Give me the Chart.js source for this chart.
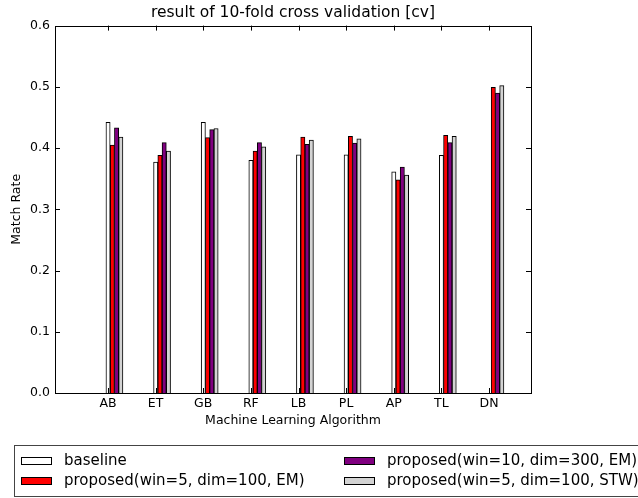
<!DOCTYPE html>
<html>
<head>
<meta charset="utf-8">
<script src="https://cdn.jsdelivr.net/npm/chart.js@4/dist/chart.umd.min.js"></script>
<style>
  html, body { margin: 0; padding: 0; background: #fff; }
  #chart { display: block; }
</style>
</head>
<body>
<canvas id="chart" width="638" height="498"></canvas>
<script>
// values
const categories = ["AB", "ET", "GB", "RF", "LB", "PL", "AP", "TL", "DN"];
const baseline = [0.442, 0.377, 0.442, 0.380, 0.389, 0.389, 0.361, 0.388, null];
const emWin5 = [0.405, 0.388, 0.417, 0.395, 0.418, 0.419, 0.348, 0.421, 0.499];
const emWin10 = [0.433, 0.409, 0.430, 0.409, 0.406, 0.408, 0.369, 0.409, 0.490];
const stwWin5 = [0.418, 0.395, 0.432, 0.402, 0.413, 0.415, 0.356, 0.419, 0.502];
const yTicks = [0.0, 0.1, 0.2, 0.3, 0.4, 0.5, 0.6];

const seriesLabels = [
  "baseline",
  "proposed(win=5, dim=100, EM)",
  "proposed(win=10, dim=300, EM)",
  "proposed(win=5, dim=100, STW)",
];
const seriesColors = ["#ffffff", "#ff0000", "#800080", "#d3d3d3"];

// group of bars starts at the tick (matplotlib style), so shift group centre right
const GROUP_SHIFT = 0.135;
const FONT = "DejaVu Sans";

Chart.defaults.font.family = FONT;
Chart.defaults.color = "#000";

function toPoints(values) {
  return values.map((v, i) => ({ x: i + GROUP_SHIFT, y: v }));
}

// frame + inward tick marks on all four sides
const framePlugin = {
  id: "frame",
  afterDatasetsDraw(chart) {
    const { ctx, chartArea: a, scales } = chart;
    const len = 5;
    ctx.save();
    ctx.strokeStyle = "#000";
    ctx.lineWidth = 1;
    ctx.beginPath();
    scales.y.ticks.forEach((t) => {
      const y = Math.round(scales.y.getPixelForValue(t.value)) + 0.5;
      ctx.moveTo(a.left, y); ctx.lineTo(a.left + len, y);
      ctx.moveTo(a.right, y); ctx.lineTo(a.right - len, y);
    });
    scales.x.ticks.forEach((t) => {
      const x = Math.round(scales.x.getPixelForValue(t.value)) + 0.5;
      ctx.moveTo(x, a.bottom); ctx.lineTo(x, a.bottom - len);
      ctx.moveTo(x, a.top); ctx.lineTo(x, a.top + len);
    });
    ctx.stroke();
    ctx.strokeRect(Math.round(a.left) + 0.5, Math.round(a.top) + 0.5,
      Math.round(a.right - a.left), Math.round(a.bottom - a.top));
    ctx.restore();
  },
};

// two-column legend box below the plot, cut by the right edge like the original
const boxLegendPlugin = {
  id: "boxLegend",
  afterDraw(chart) {
    const { ctx } = chart;
    const colX = [21, 344];
    const rowY = [461, 481];
    ctx.save();
    ctx.strokeStyle = "#444";
    ctx.lineWidth = 1;
    ctx.strokeRect(14.5, 445.5, 700, 51);
    ctx.font = "15px '" + FONT + "'";
    ctx.textBaseline = "middle";
    chart.data.datasets.forEach((ds, k) => {
      const x = colX[Math.floor(k / 2)];
      const y = rowY[k % 2];
      ctx.fillStyle = ds.backgroundColor;
      ctx.fillRect(x, y - 4, 31, 8);
      ctx.strokeStyle = "#000";
      ctx.strokeRect(x + 0.5, y - 3.5, 30, 7);
      ctx.fillStyle = "#000";
      ctx.fillText(ds.label, x + 43, y);
    });
    ctx.restore();
  },
};

const datasets = [baseline, emWin5, emWin10, stwWin5].map((values, k) => ({
  label: seriesLabels[k],
  data: toPoints(values),
  backgroundColor: seriesColors[k],
  borderColor: "#000",
  borderWidth: 1,
  borderSkipped: "bottom",
  barThickness: 4.25,
}));

new Chart(document.getElementById("chart"), {
  type: "bar",
  data: { datasets },
  options: {
    responsive: false,
    animation: false,
    layout: { padding: { left: 0, right: 107, top: 0, bottom: 65 } },
    scales: {
      x: {
        type: "linear",
        offset: false,
        min: -1.113,
        max: 8.882,
        afterBuildTicks(scale) {
          scale.ticks = categories.map((c, i) => ({ value: i }));
        },
        afterFit(scale) { scale.height = 40; },
        ticks: {
          autoSkip: false,
          maxRotation: 0,
          padding: 3,
          font: { size: 12.5 },
          callback: (v) => categories[v],
        },
        grid: { display: false, drawTicks: false },
        border: { display: false },
        title: {
          display: true,
          text: "Machine Learning Algorithm",
          font: { size: 12.5 },
          padding: { top: 0, bottom: 4.5 },
        },
      },
      y: {
        min: 0,
        max: 0.6,
        afterBuildTicks(scale) {
          scale.ticks = yTicks.map((v) => ({ value: v }));
        },
        afterFit(scale) { scale.width = 55; },
        ticks: {
          padding: 5,
          font: { size: 12.5 },
          callback: (v) => v.toFixed(1),
        },
        grid: { display: false, drawTicks: false },
        border: { display: false },
        title: {
          display: true,
          text: "Match Rate",
          font: { size: 12.5 },
          padding: { top: 9.5, bottom: 0 },
        },
      },
    },
    plugins: {
      legend: { display: false },
      tooltip: { enabled: false },
      title: {
        display: true,
        fullSize: false,
        text: "result of 10-fold cross validation [cv]",
        font: { size: 15.5, weight: "normal" },
        color: "#000",
        padding: { top: 4, bottom: 3 },
      },
    },
  },
  plugins: [framePlugin, boxLegendPlugin],
});
</script>
</body>
</html>
